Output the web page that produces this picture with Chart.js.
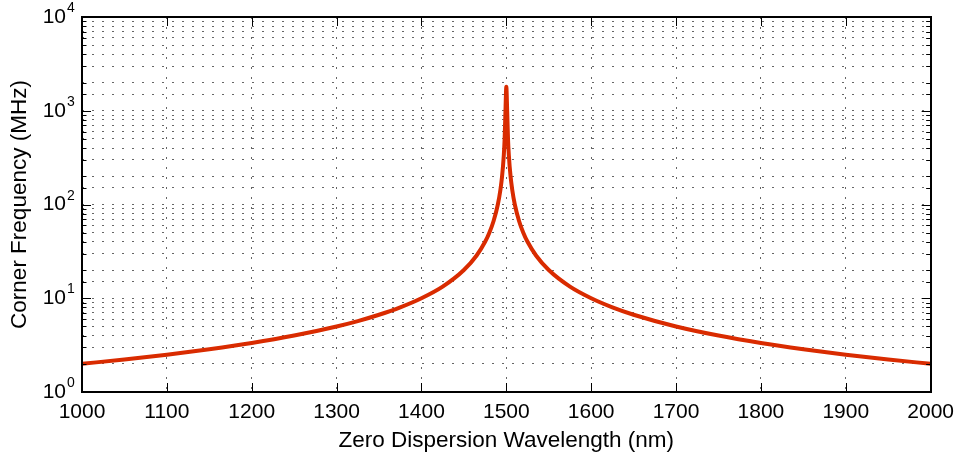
<!DOCTYPE html>
<html><head><meta charset="utf-8">
<script src="https://cdn.jsdelivr.net/npm/chart.js@4.4.0/dist/chart.umd.min.js"></script>
<style>html,body{margin:0;padding:0;background:#fff}</style>
</head><body>
<canvas id="c" width="962" height="457" style="display:block;width:962px;height:457px"></canvas>
<script>
// Data
const wavelengths = [1000,1050,1100,1150,1200,1250,1300,1325,1350,1375,1400,1425,1450,1465,1475,1480,1485,1490,1493,1495,1497,1498,1499,1500,1501,1502,1503,1505,1507,1510,1515,1520,1525,1535,1550,1575,1600,1625,1650,1700,1750,1800,1850,1900,1950,2000];
const cornerFreq = [2.0,2.22,2.5,2.86,3.33,4.0,5.0,5.71,6.67,8.0,10.0,13.3,20.0,28.6,40.0,50.0,66.7,100,143,200,333,500,1000,1800,1000,500,333,200,143,100,66.7,50.0,40.0,28.6,20.0,13.3,10.0,8.0,6.67,5.0,4.0,3.33,2.86,2.5,2.22,2.0];
const xTickLabels = [1000,1100,1200,1300,1400,1500,1600,1700,1800,1900,2000];
const yDecadeExponents = [0,1,2,3,4];
const xTitle = 'Zero Dispersion Wavelength (nm)';
const yTitle = 'Corner Frequency (MHz)';

const FONT = '"Liberation Sans", Arial, Helvetica, sans-serif';
const points = wavelengths.map((w, i) => ({x: w, y: cornerFreq[i]}));

const framePlugin = {
  id: 'frame',
  afterDraw(chart) {
    const {ctx, chartArea: a, scales: {x, y}} = chart;
    ctx.save();
    ctx.strokeStyle = '#000';
    ctx.lineWidth = 1;
    ctx.beginPath();
    xTickLabels.forEach(v => {
      const px = Math.round(x.getPixelForValue(v)) + 0.5;
      ctx.moveTo(px, a.bottom); ctx.lineTo(px, a.bottom - 9);
      ctx.moveTo(px, a.top); ctx.lineTo(px, a.top + 9);
    });
    y.ticks.forEach(t => {
      const lg = Math.log10(t.value);
      const major = Math.abs(lg - Math.round(lg)) < 1e-9;
      const len = major ? 9 : 4.5;
      const py = Math.round(y.getPixelForValue(t.value)) + 0.5;
      ctx.moveTo(a.left, py); ctx.lineTo(a.left + len, py);
      ctx.moveTo(a.right, py); ctx.lineTo(a.right - len, py);
    });
    ctx.stroke();
    ctx.lineWidth = 2;
    ctx.strokeRect(Math.round(a.left), Math.round(a.top), Math.round(a.right) - Math.round(a.left), Math.round(a.bottom) - Math.round(a.top));
    // y decade labels 10^n
    ctx.fillStyle = '#000';
    yDecadeExponents.forEach(e => {
      const py = y.getPixelForValue(Math.pow(10, e));
      ctx.font = '21px ' + FONT;
      ctx.textAlign = 'right';
      ctx.textBaseline = 'middle';
      ctx.fillText('10', 66, py);
      ctx.font = '14px ' + FONT;
      ctx.textAlign = 'left';
      ctx.textBaseline = 'alphabetic';
      ctx.fillText(String(e), 67, py - 5);
    });
    ctx.restore();
  }
};

new Chart(document.getElementById('c'), {
  type: 'line',
  data: {
    datasets: [{
      data: points,
      borderColor: 'rgb(217,43,0)',
      borderWidth: 4,
      pointRadius: 0,
      fill: false,
      cubicInterpolationMode: 'monotone',
      borderJoinStyle: 'round',
      borderCapStyle: 'butt'
    }]
  },
  options: {
    responsive: false,
    animation: false,
    devicePixelRatio: 1,
    layout: {padding: {left: 0, right: 30, top: 17, bottom: 0}},
    plugins: {legend: {display: false}, tooltip: {enabled: false}},
    scales: {
      x: {
        type: 'linear',
        min: 1000, max: 2000,
        afterFit: s => { s.height = 65; },
        afterBuildTicks: s => { s.ticks = xTickLabels.map(v => ({value: v})); },
        ticks: {
          color: '#000', font: {family: FONT, size: 21}, padding: 8,
          maxRotation: 0, autoSkip: false,
          callback: v => String(v)
        },
        grid: {color: 'rgba(0,0,0,0.6)', lineWidth: 1, drawTicks: false},
        border: {display: false, dash: [2, 8]},
        title: {display: true, text: xTitle, color: '#000', font: {family: FONT, size: 22.5}, padding: {top: 0, bottom: 3}}
      },
      y: {
        type: 'logarithmic',
        min: 1, max: 10000,
        afterFit: s => { s.width = 82; },
        ticks: {display: false, autoSkip: false},
        grid: {color: 'rgba(0,0,0,0.6)', lineWidth: 1, drawTicks: false},
        border: {display: false, dash: [2, 8]},
        title: {display: true, text: yTitle, color: '#000', font: {family: FONT, size: 22.5}, padding: {top: 6, bottom: 0}}
      }
    }
  },
  plugins: [framePlugin]
});
</script>
</body></html>
